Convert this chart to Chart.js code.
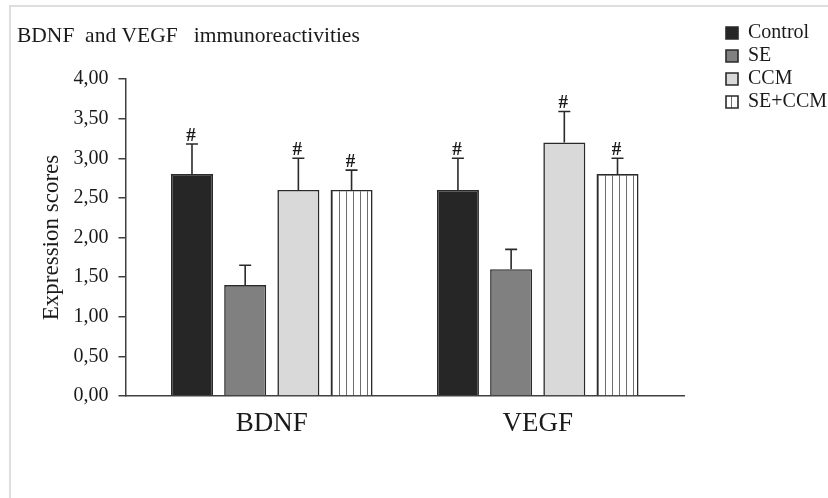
<!DOCTYPE html>
<html>
<head>
<meta charset="utf-8">
<script src="https://cdn.jsdelivr.net/npm/chart.js@4.4.1/dist/chart.umd.min.js"></script>
<style>
  html, body { margin: 0; padding: 0; background: #fff; }
  #wrap { position: relative; width: 828px; height: 498px; overflow: hidden; }
  #frame { position: absolute; left: 9px; top: 5px; width: 840px; height: 510px;
           border-left: 2px solid #dedede; border-top: 2px solid #dedede; }
  canvas { position: absolute; left: 0; top: 0; }
</style>
</head>
<body>
<div id="wrap">
  <div id="frame"></div>
  <canvas id="chart" width="828" height="498"></canvas>
</div>
<script>
// Markers and groups
const categories = ['BDNF', 'VEGF'];
const groupNames = ['Control', 'SE', 'CCM', 'SE+CCM'];

// Mean expression scores per group (BDNF, VEGF)
const controlValues = [2.8, 2.6];
const seValues = [1.4, 1.6];
const ccmValues = [2.6, 3.2];
const seCcmValues = [2.6, 2.8];

// Upper error (SD) per group
const controlErr = [0.38, 0.4];
const seErr = [0.25, 0.25];
const ccmErr = [0.4, 0.39];
const seCcmErr = [0.25, 0.2];

// "#" significance marks per group
const controlSig = [true, true];
const seSig = [false, false];
const ccmSig = [true, true];
const seCcmSig = [true, true];

// Y axis tick labels (0 to 4 in steps of 0.5)
const yTickLabels = ['0,00', '0,50', '1,00', '1,50', '2,00', '2,50', '3,00', '3,50', '4,00'];

const FONT = 'Liberation Serif';
const INK = '#1a1a1a';
const EDGE = '#2a2a2a';

Chart.defaults.font.family = FONT;

// vertical-stripe fill for the SE+CCM group
function stripePattern() {
  const c = document.createElement('canvas');
  c.width = 7; c.height = 4;
  const g = c.getContext('2d');
  g.fillStyle = '#ffffff';
  g.fillRect(0, 0, 7, 4);
  g.fillStyle = '#6e6e6e';
  g.fillRect(3, 0, 1, 4);
  return g.createPattern(c, 'repeat');
}

const toPoints = arr => arr.map((v, i) => ({ x: i + 1, y: v }));

const seriesValues = [controlValues, seValues, ccmValues, seCcmValues];
const seriesErr = [controlErr, seErr, ccmErr, seCcmErr];
const seriesSig = [controlSig, seSig, ccmSig, seCcmSig];
const seriesFill = ['#262626', '#808080', '#d9d9d9', stripePattern()];

const datasets = groupNames.map((name, k) => ({
  label: name,
  data: toPoints(seriesValues[k]),
  errors: seriesErr[k],
  marks: seriesSig[k],
  backgroundColor: seriesFill[k],
  borderColor: EDGE,
  borderWidth: 1.6,
  categoryPercentage: 0.8,
  barPercentage: 0.79
}));

// one-sided error bars with caps, plus "#" marks above them
const errorBars = {
  id: 'errorBars',
  afterDatasetsDraw(chart) {
    const { ctx, scales: { y } } = chart;
    chart.data.datasets.forEach((ds, di) => {
      const meta = chart.getDatasetMeta(di);
      meta.data.forEach((bar, i) => {
        const v = ds.data[i].y;
        const base = y.getPixelForValue(v);
        const top = y.getPixelForValue(v + ds.errors[i]);
        ctx.save();
        ctx.strokeStyle = EDGE;
        ctx.lineWidth = 1.6;
        ctx.beginPath();
        ctx.moveTo(bar.x, base);
        ctx.lineTo(bar.x, top);
        ctx.moveTo(bar.x - 6, top);
        ctx.lineTo(bar.x + 6, top);
        ctx.stroke();
        if (ds.marks[i]) {
          ctx.fillStyle = INK;
          ctx.font = 'bold 19px "' + FONT + '"';
          ctx.textAlign = 'center';
          ctx.textBaseline = 'alphabetic';
          ctx.fillText('#', bar.x - 1, top - 3);
        }
        ctx.restore();
      });
    });
  }
};

// keeps the legend in the top-right corner, outside the plot
const legendCorner = {
  id: 'legendCorner',
  afterLayout(chart) {
    const lg = chart.legend;
    if (!lg) return;
    const w = lg.width, h = lg.height;
    lg.left = 723; lg.top = 20;
    lg.right = lg.left + w; lg.bottom = lg.top + h;
  }
};

new Chart(document.getElementById('chart'), {
  type: 'bar',
  data: { datasets },
  plugins: [legendCorner, errorBars],
  options: {
    responsive: false,
    animation: false,
    events: [],
    layout: { padding: { left: 17, top: 0, right: 144, bottom: 46 } },
    plugins: {
      title: {
        display: true,
        text: 'BDNF  and VEGF   immunoreactivities',
        align: 'start',
        color: INK,
        font: { family: FONT, size: 21.5, weight: 'normal' },
        padding: { top: 23.1, bottom: 30.1 }
      },
      legend: {
        position: 'chartArea',
        align: 'start',
        labels: {
          boxWidth: 12,
          boxHeight: 12,
          padding: 3,
          color: INK,
          font: { family: FONT, size: 20 }
        }
      },
      tooltip: { enabled: false }
    },
    scales: {
      x: {
        type: 'linear',
        offset: false,
        min: 0.45,
        max: 2.55,
        afterBuildTicks: scale => { scale.ticks = categories.map((c, i) => ({ value: i + 1 })); },
        ticks: {
          callback: (v, i) => categories[i],
          padding: 11.8,
          color: INK,
          font: { family: FONT, size: 27 },
          maxRotation: 0
        },
        grid: { display: false, drawTicks: false, offset: false },
        border: { display: true, color: '#404040', width: 1.5 }
      },
      y: {
        min: 0,
        max: 4,
        ticks: {
          stepSize: 0.5,
          padding: 10,
          color: INK,
          font: { family: FONT, size: 20 },
          callback: (v, i) => yTickLabels[i]
        },
        grid: { drawOnChartArea: false, drawTicks: true, tickLength: 7, color: '#404040', lineWidth: 1.5 },
        border: { display: true, color: '#404040', width: 1.5 },
        title: {
          display: true,
          text: 'Expression scores',
          color: INK,
          font: { family: FONT, size: 23, lineHeight: 1 },
          padding: { top: 23.5, bottom: 0 }
        }
      }
    }
  }
});
</script>
</body>
</html>
